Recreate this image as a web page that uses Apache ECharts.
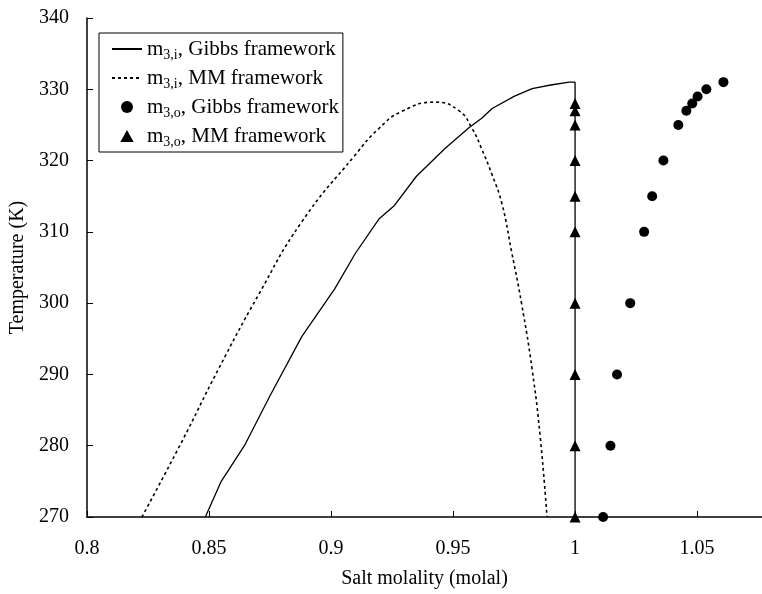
<!DOCTYPE html>
<html>
<head>
<meta charset="UTF-8">
<title>Salt molality vs temperature</title>
<script src="https://cdn.jsdelivr.net/npm/echarts@6/dist/echarts.min.js"></script>
<style>
  html, body { margin: 0; padding: 0; background: #fff; }
  #chart { width: 762px; height: 594px; }
</style>
</head>
<body>
<div id="chart"></div>
<script>
// m3,i Gibbs framework (solid line), [molality, temperature]
var gibbsInner = [
  [0.8485, 270], [0.855, 275], [0.8645, 280], [0.875, 287], [0.888, 295.3],
  [0.9015, 302], [0.91, 307], [0.9196, 311.8], [0.926, 313.7], [0.935, 317.8],
  [0.9467, 321.7], [0.9565, 324.6], [0.962, 326], [0.966, 327.3], [0.975, 329],
  [0.9824, 330.1], [0.99, 330.6], [0.9976, 331], [1.0, 331], [1.0, 270]
];
// m3,i MM framework (dashed line)
var mmInner = [
  [0.8225, 270], [0.8386, 280.4], [0.8538, 290.7], [0.870, 301], [0.888, 311.4],
  [0.9097, 320.7], [0.9196, 324.5], [0.929, 326.9], [0.9426, 328.2], [0.9524, 327],
  [0.9578, 324.5], [0.9619, 321.5], [0.966, 318], [0.970, 314], [0.974, 307.2],
  [0.978, 300.1], [0.9824, 290.7], [0.9857, 281.3], [0.9885, 270]
];
// m3,o Gibbs framework (circles)
var gibbsOuter = [
  [1.0115, 270], [1.0145, 280], [1.0172, 290], [1.0226, 300], [1.0283, 310],
  [1.0316, 315], [1.0362, 320], [1.0423, 325], [1.0456, 327], [1.048, 328],
  [1.0502, 329], [1.0538, 330], [1.0608, 331]
];
// m3,o MM framework (triangles)
var mmOuterT = [270, 280, 290, 300, 310, 315, 320, 325, 327, 328];
var mmOuter = mmOuterT.map(function (t) { return [1.0, t]; });

var names = [
  'm{sub|3,i}, Gibbs framework',
  'm{sub|3,i}, MM framework',
  'm{sub|3,o}, Gibbs framework',
  'm{sub|3,o}, MM framework'
];

var font = '"Liberation Serif", "DejaVu Serif", serif';
var triPath = 'path://M5,0 L10,9 L0,9 Z';
var chart = echarts.init(document.getElementById('chart'));
chart.setOption({
  backgroundColor: '#fff',
  animation: false,
  color: ['#000', '#000', '#000', '#000'],
  textStyle: { fontFamily: font, color: '#000' },
  grid: { left: 87, top: 18, right: 0, bottom: 77 },
  legend: {
    orient: 'vertical',
    left: 99,
    top: 33,
    borderColor: '#000',
    borderWidth: 1,
    padding: [5, 4, 3, 12],
    itemGap: 5,
    itemWidth: 30,
    itemHeight: 12,
    data: [
      { name: names[0], itemStyle: { opacity: 0 } },
      { name: names[1], itemStyle: { opacity: 0 } },
      { name: names[2], icon: 'circle' },
      { name: names[3], icon: triPath }
    ],
    textStyle: {
      fontFamily: font,
      fontSize: 21,
      color: '#000',
      lineHeight: 22,
      rich: {
        sub: { fontFamily: font, fontSize: 14, color: '#000', padding: [12, 0, 0, 0] }
      }
    }
  },
  xAxis: {
    type: 'value',
    min: 0.8,
    max: 1.0766,
    interval: 0.05,
    name: 'Salt molality (molal)',
    nameLocation: 'middle',
    nameGap: 52,
    nameTextStyle: { fontFamily: font, fontSize: 20, color: '#000' },
    axisLine: { lineStyle: { color: '#000', width: 1.5 } },
    axisTick: { inside: true, length: 6, lineStyle: { color: '#000' } },
    axisLabel: { fontFamily: font, fontSize: 20, color: '#000', margin: 22, showMaxLabel: false },
    splitLine: { show: false }
  },
  yAxis: {
    type: 'value',
    min: 270,
    max: 340,
    interval: 10,
    name: 'Temperature (K)',
    nameLocation: 'middle',
    nameRotate: 90,
    nameGap: 49,
    nameTextStyle: { fontFamily: font, fontSize: 20, color: '#000' },
    axisLine: { show: true, lineStyle: { color: '#000', width: 1.5 } },
    axisTick: { show: true, inside: true, length: 6, lineStyle: { color: '#000' } },
    axisLabel: { fontFamily: font, fontSize: 20, color: '#000', margin: 18 },
    splitLine: { show: false }
  },
  series: [
    {
      name: names[0], type: 'line', data: gibbsInner,
      symbol: 'none', smooth: false,
      itemStyle: { color: '#000' },
      lineStyle: { color: '#000', width: 1.3 }
    },
    {
      name: names[1], type: 'line', data: mmInner,
      symbol: 'none', smooth: true,
      itemStyle: { color: '#000' },
      lineStyle: { color: '#000', width: 1.6, type: [3, 3] }
    },
    {
      name: names[2], type: 'scatter', data: gibbsOuter,
      symbol: 'circle', symbolSize: 10,
      itemStyle: { color: '#000', opacity: 1 }
    },
    {
      name: names[3], type: 'scatter', data: mmOuter,
      symbol: 'triangle', symbolSize: 11,
      itemStyle: { color: '#000', opacity: 1 }
    }
  ]
});
</script>
</body>
</html>
